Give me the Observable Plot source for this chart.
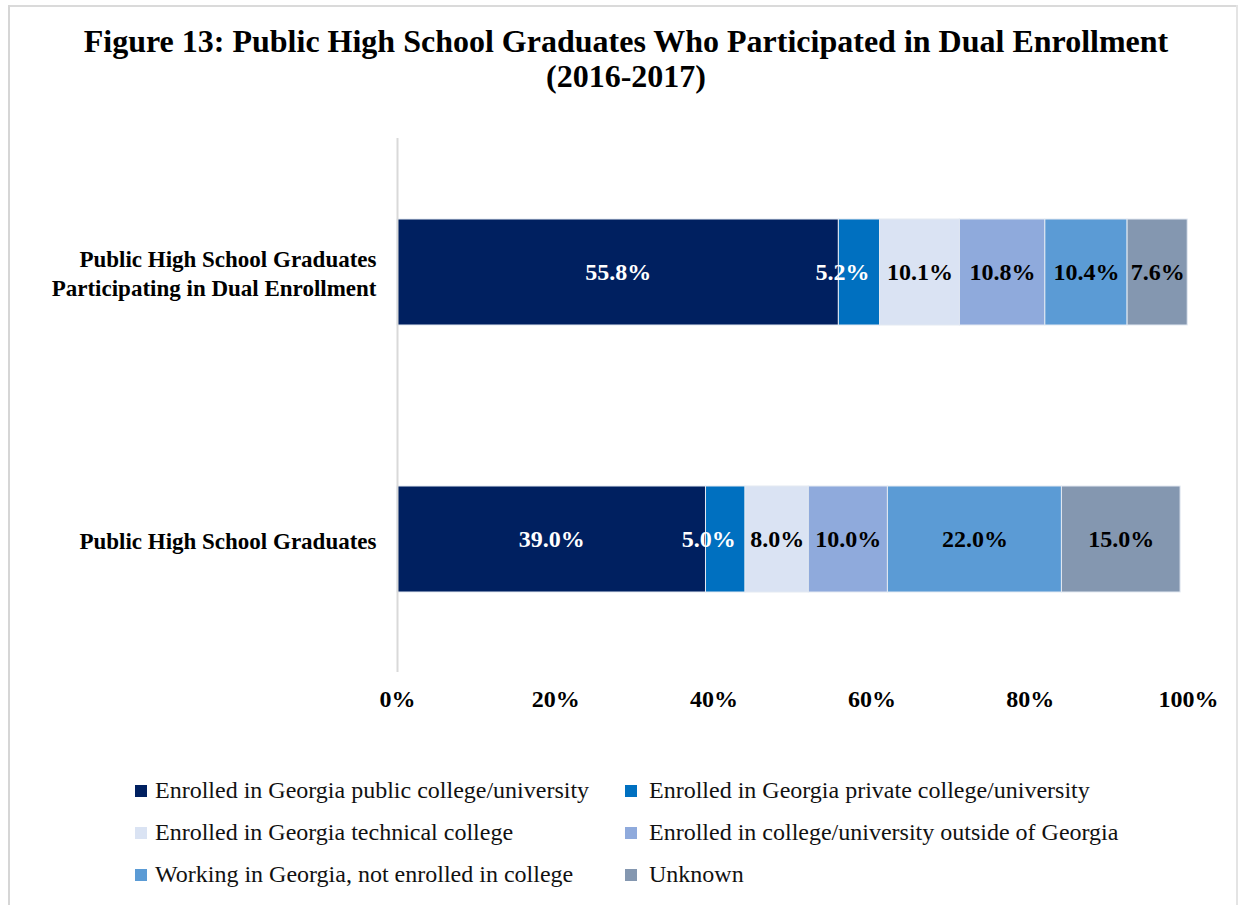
<!DOCTYPE html>
<html>
<head>
<meta charset="utf-8">
<script src="https://cdn.jsdelivr.net/npm/d3@7"></script>
<script src="https://cdn.jsdelivr.net/npm/@observablehq/plot@0.6"></script>
<style>
  html, body { margin: 0; padding: 0; background: #fff; }
  #wrap { position: relative; width: 1238px; height: 905px; overflow: hidden; background: #fff;
          font-family: "Liberation Serif", "Times New Roman", serif; }
  .frame-top { position: absolute; left: 8px; top: 5px; width: 1230px; height: 2px; background: #dadada; }
  .frame-left { position: absolute; left: 8px; top: 5px; width: 2px; height: 900px; background: #d6d6d6; }
  .frame-right { position: absolute; left: 1236px; top: 5px; width: 2px; height: 900px; background: #e4e4e4; }
  #title { position: absolute; left: 0; top: 24px; width: 1252px; text-align: center;
           font-weight: bold; font-size: 32px; line-height: 35px; color: #000; }
  #chart { position: absolute; left: 0; top: 120px; }
  #legend { position: absolute; left: 0; top: 770px; width: 1238px; }
  .li { position: absolute; font-size: 24px; line-height: 26px; color: #111; white-space: nowrap; }
  .sw { position: absolute; width: 12px; height: 12px; }
</style>
</head>
<body>
<div id="wrap">
  <div class="frame-top"></div>
  <div class="frame-left"></div>
  <div class="frame-right"></div>
  <div id="title">Figure 13: Public High School Graduates Who Participated in Dual Enrollment<br>(2016-2017)</div>
  <div id="chart"></div>
  <div id="legend"></div>
</div>
<script>
const categories = [
  "Public High School Graduates\nParticipating in Dual Enrollment",
  "Public High School Graduates"
];
const seriesNames = [
  "Enrolled in Georgia public college/university",
  "Enrolled in Georgia private college/university",
  "Enrolled in Georgia technical college",
  "Enrolled in college/university outside of Georgia",
  "Working in Georgia, not enrolled in college",
  "Unknown"
];
const dualEnrollmentValues = [55.8, 5.2, 10.1, 10.8, 10.4, 7.6];
const allGraduatesValues   = [39.0, 5.0, 8.0, 10.0, 22.0, 15.0];
const seriesColors = ["#002060", "#0070C0", "#DAE3F3", "#8FAADC", "#5B9BD5", "#8497B0"];
const labelColors  = ["#ffffff", "#ffffff", "#000000", "#000000", "#000000", "#000000"];
const xTicks = [0, 20, 40, 60, 80, 100];

const valuesByCategory = [dualEnrollmentValues, allGraduatesValues];
const rows = [];
categories.forEach((c, ci) => {
  seriesNames.forEach((s, si) => {
    rows.push({category: c, series: s, si, value: valuesByCategory[ci][si]});
  });
});

const FONT = '"Liberation Serif", "Times New Roman", serif';
const labels = (keep, dx) => Plot.text(rows, Plot.stackX({
  x: "value", y: "category", z: "series",
  text: d => keep(d) ? d.value.toFixed(1) + "%" : "",
  fill: d => labelColors[d.si],
  fontSize: 24, fontWeight: "bold", fontFamily: FONT, dx
}));

const chart = Plot.plot({
  width: 1238,
  height: 610,
  marginLeft: 397,
  marginRight: 50,
  marginTop: 18,
  marginBottom: 58,
  style: {fontFamily: FONT, background: "transparent", overflow: "visible"},
  x: {domain: [0, 100], ticks: xTicks},
  y: {domain: categories, paddingInner: 0.603, paddingOuter: 0.30, label: null},
  color: {domain: seriesNames, range: seriesColors},
  marks: [
    Plot.barX(rows, Plot.stackX({
      x: "value", y: "category", z: "series", fill: "series",
      stroke: "#e3e9f2", strokeWidth: 1
    })),
    labels(d => d.si !== 1, 0),
    labels(d => d.si === 1, -17),
    Plot.ruleX([0], {stroke: "#d9d9d9", strokeWidth: 2}),
    Plot.axisX({ticks: xTicks, tickSize: 0, tickPadding: 17, tickFormat: d => d + "%",
      fontSize: 24, fontWeight: "bold", fontFamily: FONT, fill: "#000", label: null}),
    Plot.axisY({tickSize: 0, tickPadding: 21, fontSize: 23, fontWeight: "bold",
      fontFamily: FONT, fill: "#000", lineHeight: 1.24, label: null})
  ]
});
document.getElementById("chart").appendChild(chart);

// Legend (two columns, three rows)
const legend = document.getElementById("legend");
const colX = [135, 625];
const textX = [155, 649];
const rowY = [21, 63, 105];
seriesNames.forEach((s, i) => {
  const col = i % 2, row = Math.floor(i / 2);
  const sw = document.createElement("div");
  sw.className = "sw";
  sw.style.left = colX[col] + "px";
  sw.style.top = (rowY[row] - 6) + "px";
  sw.style.background = seriesColors[i];
  legend.appendChild(sw);
  const t = document.createElement("div");
  t.className = "li";
  t.style.left = textX[col] + "px";
  t.style.top = (rowY[row] - 14) + "px";
  t.textContent = s;
  legend.appendChild(t);
});
</script>
</body>
</html>
